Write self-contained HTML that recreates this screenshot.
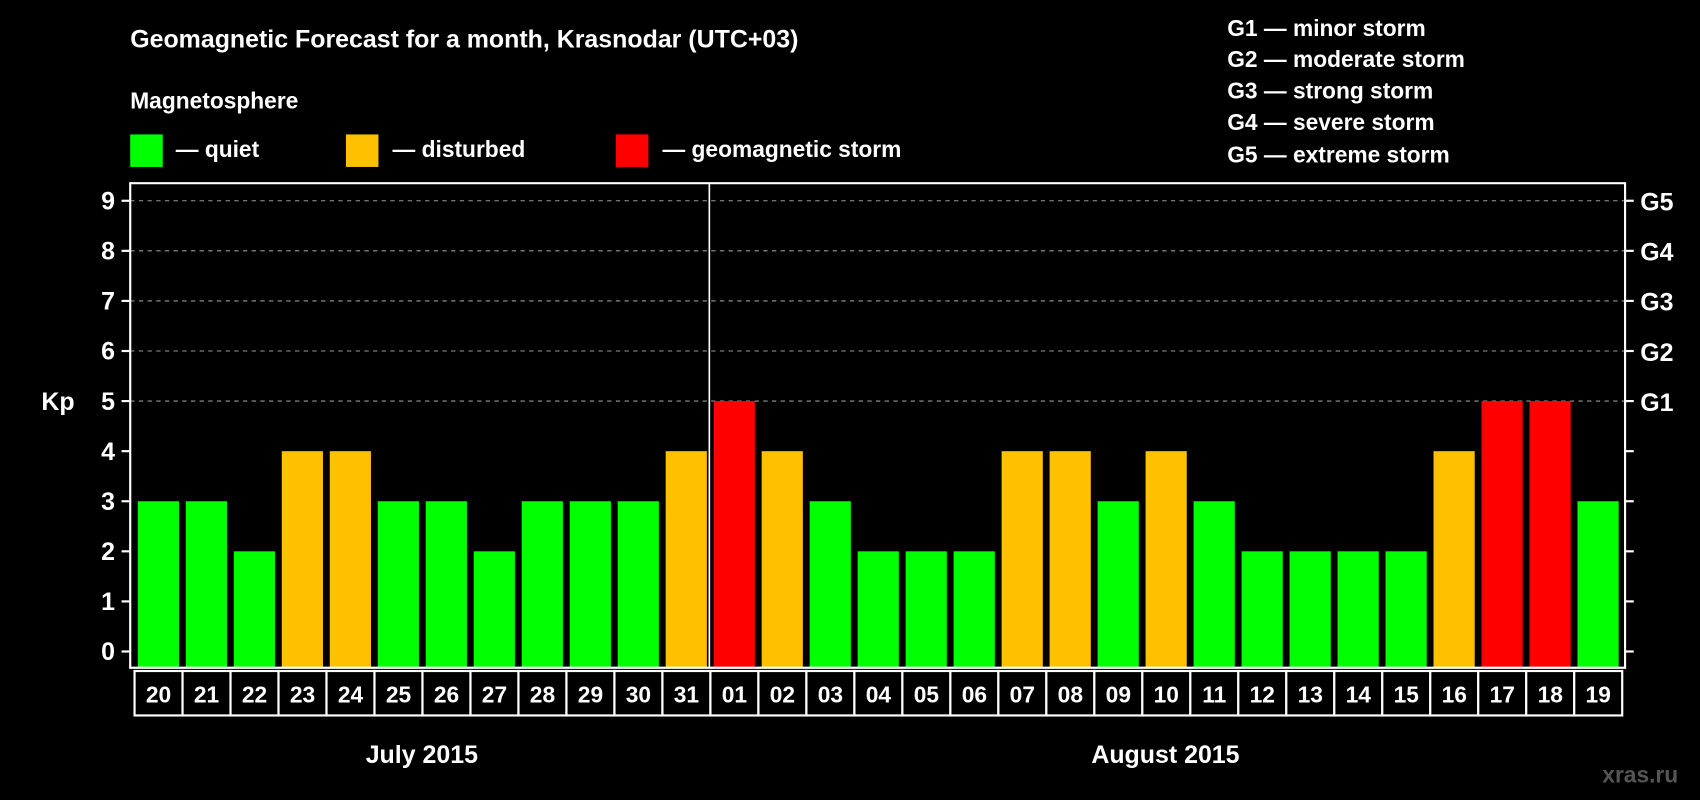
<!DOCTYPE html>
<html><head><meta charset="utf-8"><style>
html,body{margin:0;padding:0;background:#000;}
svg{display:block;font-family:"Liberation Sans",sans-serif;font-weight:bold;}
</style></head><body>
<svg id="chart" width="1700" height="800" viewBox="0 0 1568 738" xmlns="http://www.w3.org/2000/svg">
<rect width="1568" height="738" fill="#000"/>
<text x="120" y="44" fill="#fff" font-size="23">Geomagnetic Forecast for a month, Krasnodar (UTC+03)</text>
<text x="120" y="100" fill="#fff" font-size="21">Magnetosphere</text>
<g font-size="21" fill="#fff">
<rect x="120" y="124" width="30" height="30" fill="#00ff00"/>
<text x="162" y="145">— quiet</text>
<rect x="319" y="124" width="30" height="30" fill="#ffc000"/>
<text x="362" y="145">— disturbed</text>
<rect x="568" y="124" width="30" height="30" fill="#ff0000"/>
<text x="611" y="145">— geomagnetic storm</text>
</g>
<g font-size="21" fill="#fff">
<text x="1132" y="33">G1 — minor storm</text>
<text x="1132" y="62">G2 — moderate storm</text>
<text x="1132" y="91">G3 — strong storm</text>
<text x="1132" y="120">G4 — severe storm</text>
<text x="1132" y="150">G5 — extreme storm</text>
</g>
<text x="38" y="378" fill="#fff" font-size="23">Kp</text>
<g id="plot"></g>
<text x="389" y="704" fill="#fff" font-size="23" text-anchor="middle">July 2015</text>
<text x="1075" y="704" fill="#fff" font-size="23" text-anchor="middle">August 2015</text>
<text x="1548" y="722" fill="#555" font-size="21" text-anchor="end">xras.ru</text>
</svg>
<script>
const days = ["20","21","22","23","24","25","26","27","28","29","30","31","01","02","03","04","05","06","07","08","09","10","11","12","13","14","15","16","17","18","19"];
const kp = [3,3,2,4,4,3,3,2,3,3,3,4,5,4,3,2,2,2,4,4,3,4,3,2,2,2,2,4,5,5,3];
const yTicks = ["0","1","2","3","4","5","6","7","8","9"];
const gLabels = ["G1","G2","G3","G4","G5"];
const NS="http://www.w3.org/2000/svg";
const g=document.getElementById('plot');
const L=120,R=1499,T=169,B=616,X0=124,PITCH=44.27;
const y=v=>601-v*46.2;
const x=i=>X0+i*PITCH;
function mk(t,a){const e=document.createElementNS(NS,t);for(const k in a)e.setAttribute(k,a[k]);g.appendChild(e);return e;}
// gridlines
for(let v=5;v<=9;v++){
 const l=mk('line',{x1:L,x2:R,y1:y(v),y2:y(v),stroke:'#999','stroke-dasharray':'4 4','stroke-width':1});
 
 
}
// bars
kp.forEach((v,i)=>{
 const c=v>=5?'#ff0000':v===4?'#ffc000':'#00ff00';
 const r=mk('rect',{x:x(i)+3,y:y(v),width:38,height:B-y(v),fill:c});
 
 
 const b=mk('rect',{x:x(i),y:619,width:PITCH,height:41,fill:'#000',stroke:'#fff','stroke-width':2});
 
 
 const t=mk('text',{x:x(i)+PITCH/2,y:648,fill:'#fff','font-size':21,'text-anchor':'middle'});
 t.textContent=days[i];
 
 
});
// frame
const fr=mk('path',{d:`M${L} ${T}H${R}V${B}H${L}Z`,fill:'none',stroke:'#fff','stroke-width':2});


const dv=mk('line',{x1:x(12)-1,x2:x(12)-1,y1:T,y2:B,stroke:'#fff','stroke-width':1.5});


yTicks.forEach((s,i)=>{
 const v=+s;
 const tl=mk('line',{x1:L-8,x2:L,y1:y(v),y2:y(v),stroke:'#fff','stroke-width':2});
 
 
 const tr=mk('line',{x1:R,x2:R+8,y1:y(v),y2:y(v),stroke:'#fff','stroke-width':2});
 
 
 const t=mk('text',{x:L-14,y:y(v)+8,fill:'#fff','font-size':23,'text-anchor':'end'});
 t.textContent=s;
 
 
});
gLabels.forEach((s,i)=>{
 const t=mk('text',{x:R+14,y:y(5+i)+9,fill:'#fff','font-size':23});
 t.textContent=s;
 
 
});
</script>
</body></html>
